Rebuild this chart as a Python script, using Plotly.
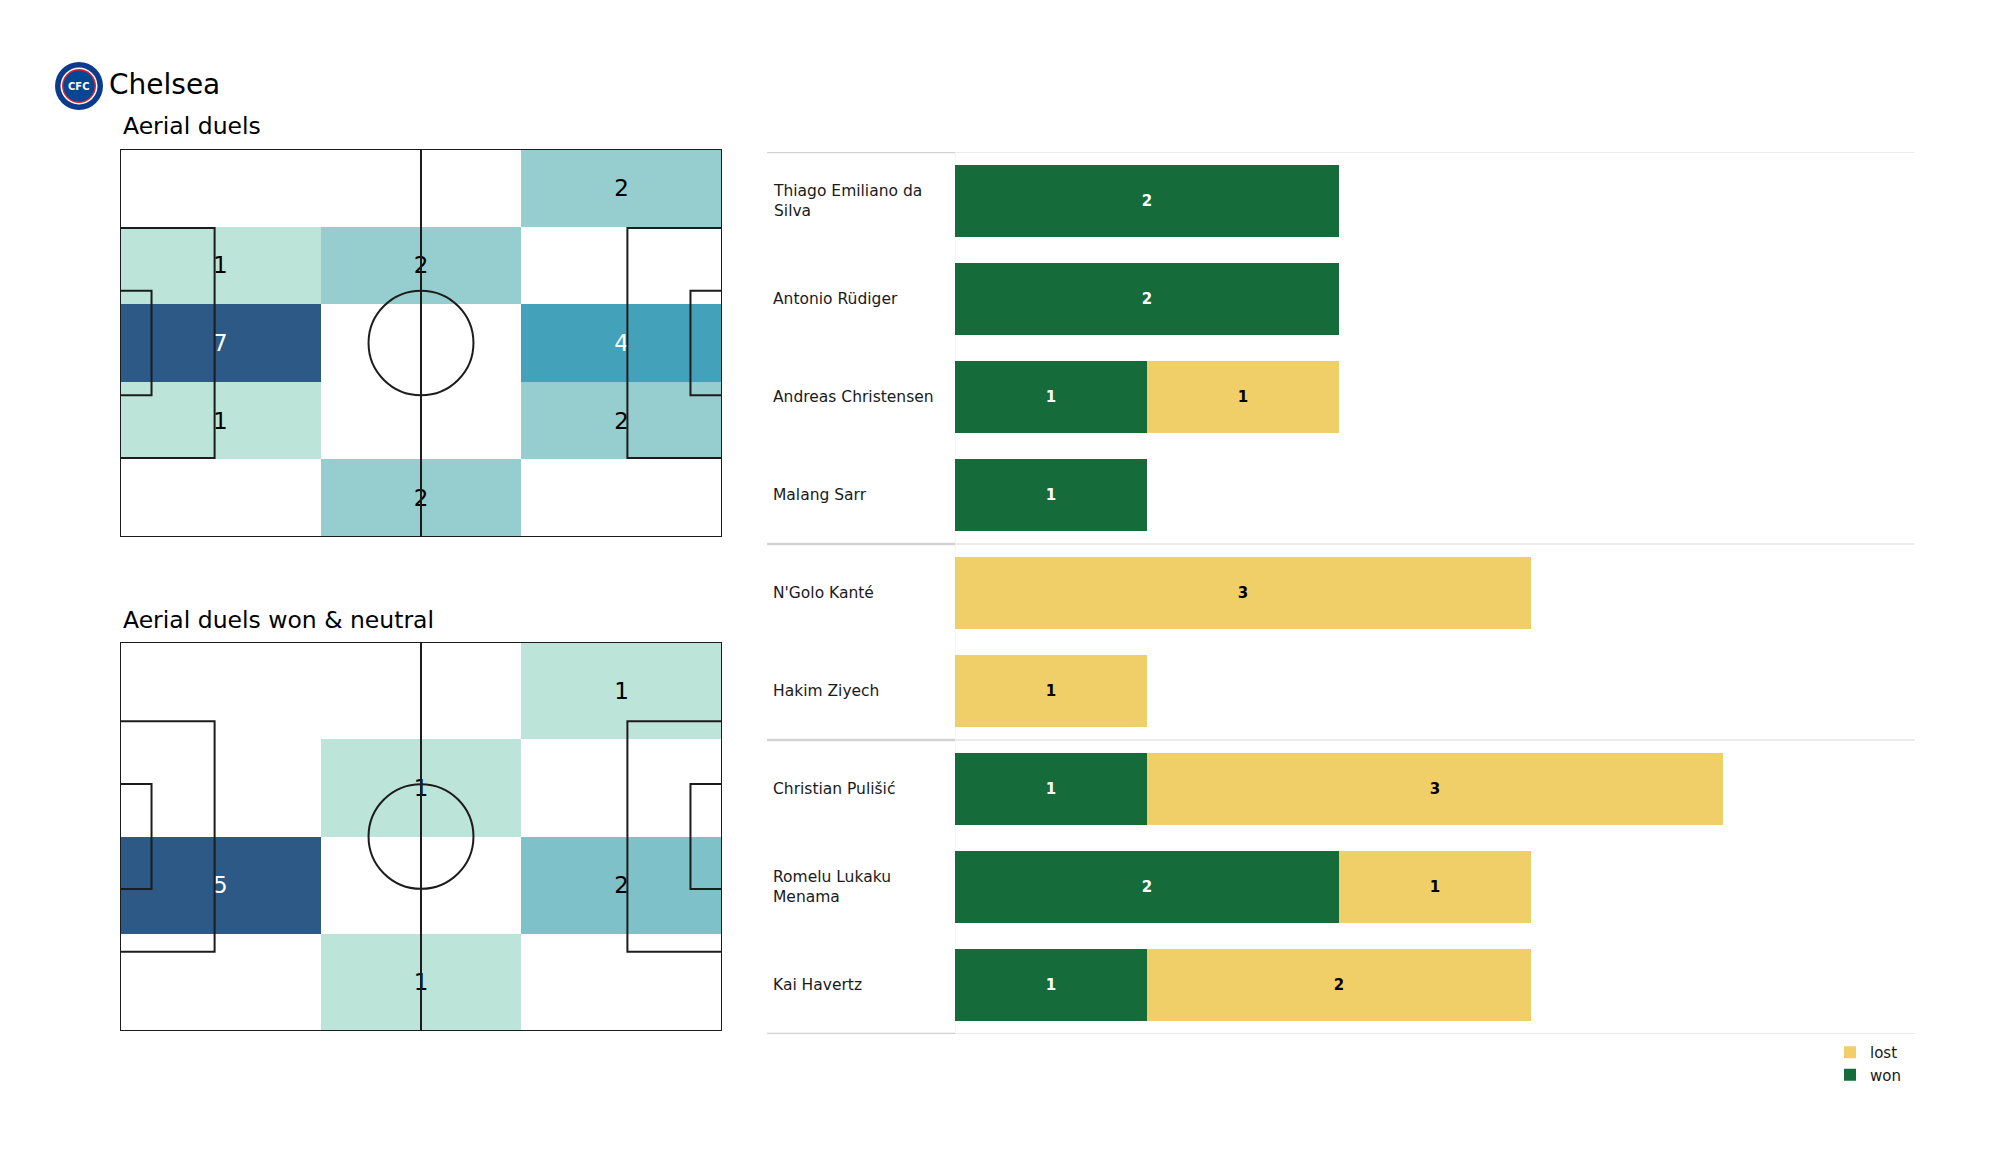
import textwrap
import numpy as np
import plotly.graph_objects as go

# ---------------- data ----------------
team_name = "Chelsea"
pitch1_title = "Aerial duels"
pitch2_title = "Aerial duels won & neutral"

# zone counts, rows listed top -> bottom, columns left -> right
pitch1_values = [
    [0, 0, 2],
    [1, 2, 0],
    [7, 0, 4],
    [1, 0, 2],
    [0, 2, 0],
]
pitch2_values = [
    [0, 0, 1],
    [0, 1, 0],
    [5, 0, 2],
    [0, 1, 0],
]

players = [
    "Thiago Emiliano da Silva",
    "Antonio Rüdiger",
    "Andreas Christensen",
    "Malang Sarr",
    "N'Golo Kanté",
    "Hakim Ziyech",
    "Christian Pulišić",
    "Romelu Lukaku Menama",
    "Kai Havertz",
]
won = [2, 2, 1, 1, 0, 0, 1, 2, 1]
lost = [0, 0, 1, 0, 3, 1, 3, 1, 2]
group_breaks = [4, 6]  # separator lines after these many players

# ---------------- style ----------------
W, H = 2000, 1175
OFF = 8  # page body margin
FONT = "DejaVu Sans"
GREEN = "#166b3a"
YELLOW = "#f1cf68"
HEAT_SCALE = [
    [0.0, "#bde4d9"],
    [0.167, "#96cdce"],
    [0.25, "#7fc1c8"],
    [0.5, "#43a2ba"],
    [1.0, "#2c5985"],
]
PITCH_LINE = dict(color="#1c1c1c", width=2)
PITCH_L, PITCH_W = 105.0, 68.0
TEXT_DROP = 0.4  # small downward nudge of zone labels (metres)


def px(x):
    return (x - OFF) / W


def py(y):
    return 1 - (y - OFF) / H


fig = go.Figure()
shapes = []
annotations = []


def add_pitch(values, xa, ya):
    vals = np.array(values, dtype=float)
    nrows, ncols = vals.shape
    xe = np.linspace(0, PITCH_L, ncols + 1)
    ye = np.linspace(0, PITCH_W, nrows + 1)
    vmax = vals.max()
    z = [[v if v > 0 else None for v in row] for row in vals]
    fig.add_trace(go.Heatmap(
        x=xe, y=ye, z=z, colorscale=HEAT_SCALE, zmin=1, zmax=vmax,
        showscale=False, hoverinfo="skip", xaxis=xa, yaxis=ya,
    ))
    xc = (xe[:-1] + xe[1:]) / 2
    yc = (ye[:-1] + ye[1:]) / 2
    tx, ty, tt, tc = [], [], [], []
    for r in range(nrows):
        for c in range(ncols):
            v = vals[r, c]
            if v > 0:
                tx.append(xc[c])
                ty.append(yc[r] + TEXT_DROP)
                tt.append(str(int(v)))
                tc.append("white" if v / vmax > 0.5 else "black")
    fig.add_trace(go.Scatter(
        x=tx, y=ty, text=tt, mode="text",
        textfont=dict(family=FONT, size=23, color=tc),
        hoverinfo="skip", showlegend=False, xaxis=xa, yaxis=ya,
    ))
    xr, yr = xa, ya
    mid = PITCH_W / 2

    def rect(x0, y0, x1, y1):
        shapes.append(dict(type="rect", xref=xr, yref=yr, x0=x0, y0=y0, x1=x1, y1=y1,
                           line=PITCH_LINE, fillcolor="rgba(0,0,0,0)", layer="above"))
    rect(0, 0, PITCH_L, PITCH_W)
    shapes.append(dict(type="line", xref=xr, yref=yr, x0=PITCH_L / 2, x1=PITCH_L / 2,
                       y0=0, y1=PITCH_W, line=PITCH_LINE, layer="above"))
    shapes.append(dict(type="circle", xref=xr, yref=yr,
                       x0=PITCH_L / 2 - 9.15, x1=PITCH_L / 2 + 9.15,
                       y0=mid - 9.15, y1=mid + 9.15, line=PITCH_LINE, layer="above"))
    rect(0, mid - 20.16, 16.5, mid + 20.16)
    rect(PITCH_L - 16.5, mid - 20.16, PITCH_L, mid + 20.16)
    rect(0, mid - 9.16, 5.5, mid + 9.16)
    rect(PITCH_L - 5.5, mid - 9.16, PITCH_L, mid + 9.16)


add_pitch(pitch1_values, "x", "y")
add_pitch(pitch2_values, "x2", "y2")

# ---------------- bar chart ----------------
won_text = [str(v) if v else "" for v in won]
lost_text = [str(v) if v else "" for v in lost]
fig.add_trace(go.Bar(
    y=players, x=won, orientation="h", name="won", marker=dict(color=GREEN, line=dict(width=0)),
    text=won_text, textposition="inside", insidetextanchor="middle", textangle=0,
    constraintext="none",
    textfont=dict(family=FONT, size=15, color="white", weight="bold"),
    width=0.74, xaxis="x3", yaxis="y3", hoverinfo="skip",
))
fig.add_trace(go.Bar(
    y=players, x=lost, orientation="h", name="lost", marker=dict(color=YELLOW, line=dict(width=0)),
    text=lost_text, textposition="inside", insidetextanchor="middle", textangle=0,
    constraintext="none",
    textfont=dict(family=FONT, size=15, color="black", weight="bold"),
    width=0.74, xaxis="x3", yaxis="y3", hoverinfo="skip",
))

n = len(players)
sep_positions = [-0.5] + [b - 0.5 for b in group_breaks] + [n - 0.5]
for yv in sep_positions:
    shapes.append(dict(type="line", xref="paper", yref="y3", x0=px(767), x1=px(955),
                       y0=yv, y1=yv, line=dict(color="#d2d2d2", width=2.5), layer="below"))
    shapes.append(dict(type="line", xref="x3", yref="y3", x0=0, x1=5,
                       y0=yv, y1=yv, line=dict(color="#e4e4e4", width=1.5), layer="below"))
shapes.append(dict(type="line", xref="x3", yref="y3", x0=0, x1=0, y0=-0.5, y1=n - 0.5,
                   line=dict(color="#f0f0f0", width=1), layer="below"))

for p in players:
    annotations.append(dict(
        xref="paper", yref="y3", x=px(771), y=p, xanchor="left", yanchor="middle",
        text="<br>".join(textwrap.wrap(p, 19)), align="left", showarrow=False,
        font=dict(family=FONT, size=15.5, color="#1a1a1a"),
    ))

# ---------------- titles & logo ----------------
annotations.append(dict(xref="paper", yref="paper", x=px(107), y=py(84), xanchor="left",
                        yanchor="middle", text=team_name, showarrow=False,
                        font=dict(family=FONT, size=28, color="black")))
annotations.append(dict(xref="paper", yref="paper", x=px(121), y=py(126), xanchor="left",
                        yanchor="middle", text=pitch1_title, showarrow=False,
                        font=dict(family=FONT, size=23.5, color="black")))
annotations.append(dict(xref="paper", yref="paper", x=px(121), y=py(620), xanchor="left",
                        yanchor="middle", text=pitch2_title, showarrow=False,
                        font=dict(family=FONT, size=23.5, color="black")))

cx, cy = 79, 86
for r, col in [(24, "#0b3b8c"), (18.5, "#ffffff"), (17, "#d9262e"), (15.5, "#034694")]:
    shapes.append(dict(type="circle", xref="paper", yref="paper",
                       x0=px(cx - r), x1=px(cx + r), y0=py(cy + r), y1=py(cy - r),
                       fillcolor=col, line=dict(width=0), layer="above"))
annotations.append(dict(xref="paper", yref="paper", x=px(cx), y=py(cy), xanchor="center",
                        yanchor="middle", text="<b>CFC</b>", showarrow=False,
                        font=dict(family=FONT, size=10, color="white")))

# ---------------- layout ----------------
hidden = dict(visible=False, showgrid=False, zeroline=False, fixedrange=True)
fig.update_layout(
    width=W, height=H,
    margin=dict(l=0, r=0, t=0, b=0),
    paper_bgcolor="white", plot_bgcolor="white",
    font=dict(family=FONT),
    barmode="stack",
    showlegend=True,
    legend=dict(x=px(1830), y=py(1036), xanchor="left", yanchor="top",
                traceorder="reversed", font=dict(family=FONT, size=15, color="#1a1a1a"),
                bgcolor="rgba(0,0,0,0)", tracegroupgap=0, itemwidth=30),
    xaxis=dict(hidden, range=[0, PITCH_L], domain=[px(120), px(722)]),
    yaxis=dict(hidden, range=[PITCH_W, 0], domain=[py(537), py(149)]),
    xaxis2=dict(hidden, range=[0, PITCH_L], domain=[px(120), px(722)]),
    yaxis2=dict(hidden, range=[PITCH_W, 0], domain=[py(1031), py(642)]),
    xaxis3=dict(hidden, range=[0, 5], domain=[px(955), px(1915)]),
    yaxis3=dict(visible=True, showticklabels=False, showgrid=False, zeroline=False,
                showline=False, ticks="", type="category", categoryorder="array",
                categoryarray=players, range=[n - 0.5, -0.5],
                domain=[py(1034), py(152)], fixedrange=True),
    shapes=shapes,
    annotations=annotations,
)
for tr in fig.data:
    if tr.type != "bar":
        tr.showlegend = False

fig.write_html("out.html")
